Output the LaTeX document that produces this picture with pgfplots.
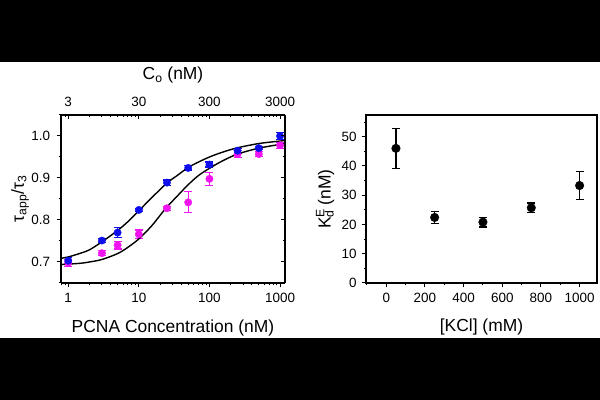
\documentclass[border=0pt]{standalone}
\usepackage{fontspec}
\setmainfont{Liberation Sans}
\usepackage{pgfplots}
\pgfplotsset{compat=1.18}

\definecolor{ptblue}{RGB}{15,15,235}
\definecolor{ptmag}{RGB}{240,20,240}

\pgfplotsset{
  common/.style={
    scale only axis, anchor=south west,
    axis line style={line width=1.3bp},
    every tick/.style={black, line width=1bp},
    major tick length=4.5bp, minor tick length=2.5bp,
    tick label style={font=\fontsize{13.5}{16}\selectfont},
    label style={font=\fontsize{17.5}{20}\selectfont},
    /pgf/number format/assume math mode=true,
    /pgf/number format/1000 sep={},
  },
  pts/.style 2 args={only marks, mark=*, mark size=#2, color=#1, mark options={fill=#1},
    error bars/.cd, y dir=both, y explicit,
    error bar style={line width=1.2bp, color=#1},
    error mark options={line width=1.2bp, mark size=4bp, color=#1, rotate=90}},
  fit/.style={black, line width=1.4bp, smooth, no marks},
}

\begin{document}
\begin{tikzpicture}
\useasboundingbox (0bp,0bp) rectangle (600bp,400bp);
\fill[black] (0bp,338bp) rectangle (600bp,400bp);
\fill[black] (0bp,0bp) rectangle (600bp,62bp);

% ---- left panel: normalised lifetime vs PCNA ----
\begin{axis}[common, at={(61bp,117bp)}, width=224bp, height=168bp,
  xmode=log, xmin=0.79, xmax=1175, ymin=0.65, ymax=1.05,
  axis x line*=bottom, axis y line*=left, tick align=outside,
  xtick={1,10,100,1000}, xticklabels={1,10,100,1000},
  minor xtick={0.8,0.9,2,3,4,5,6,7,8,9,20,30,40,50,60,70,80,90,200,300,400,500,600,700,800,900},
  ytick={0.7,0.8,0.9,1.0}, yticklabels={0.7,0.8,0.9,1.0},
  minor ytick={0.65,0.75,0.85,0.95,1.05},
  xticklabel style={yshift=-2.5bp}, yticklabel style={xshift=-3bp},
  xlabel={PCNA Concentration (nM)},
  ylabel={τ\textsubscript{app}/τ\textsubscript{3}},
  xlabel style={at={(axis description cs:0.5,-0.268)}, anchor=center},
  ylabel style={at={(axis description cs:-0.183,0.5)}, anchor=center},
  clip=false]

\addplot[pts={ptmag}{3.7bp}] coordinates {
  (1,0.698) +- (0,0.008)
  (3,0.721) +- (0,0.006)
  (5,0.740) +- (0,0.009)
  (10,0.766) +- (0,0.010)
  (25,0.828) +- (0,0.005)
  (50,0.842) +- (0,0.025)
  (100,0.898) +- (0,0.016)
  (250,0.957) +- (0,0.008)
  (500,0.957) +- (0,0.006)
  (1000,0.978) +- (0,0.007)
};
\addplot[pts={ptblue}{3.7bp}] coordinates {
  (1,0.703) +- (0,0.007)
  (3,0.751) +- (0,0.005)
  (5,0.770) +- (0,0.012)
  (10,0.824) +- (0,0.004)
  (25,0.889) +- (0,0.006)
  (50,0.924) +- (0,0.005)
  (100,0.932) +- (0,0.006)
  (250,0.965) +- (0,0.006)
  (500,0.971) +- (0,0.004)
  (1000,1.000) +- (0,0.008)
};

% fitted binding curves
\addplot[fit] coordinates {
  (0.8,0.709) (1,0.712) (1.5,0.721) (2,0.729) (3,0.748) (5,0.775) (7,0.796)
  (10,0.822) (15,0.852) (25,0.888) (35,0.906) (50,0.925) (70,0.938)
  (100,0.950) (150,0.961) (250,0.972) (500,0.982) (1000,0.988) (1175,0.989)
};
\addplot[fit] coordinates {
  (0.8,0.694) (1,0.695) (1.5,0.697) (2,0.700) (3,0.706) (5,0.720) (7,0.735)
  (10,0.755) (15,0.785) (20,0.811) (25,0.831) (35,0.857) (50,0.884)
  (70,0.906) (100,0.923) (150,0.940) (250,0.957) (500,0.971) (1000,0.980) (1175,0.982)
};
\end{axis}

% ---- left panel: top axis in total concentration ----
\begin{axis}[common, at={(61bp,117bp)}, width=224bp, height=168bp,
  xmode=log, xmin=0.79, xmax=1175, ymin=0.65, ymax=1.05,
  axis x line*=top, axis y line*=right, tick align=inside,
  xtick={1,10,100,1000}, xticklabels={3,30,300,3000},
  minor xtick={0.8,0.9,2,3,4,5,6,7,8,9,20,30,40,50,60,70,80,90,200,300,400,500,600,700,800,900},
  ytick={0.7,0.8,0.9,1.0}, yticklabels={},
  minor ytick={0.65,0.75,0.85,0.95,1.05},
  xticklabel style={yshift=5bp},
  xlabel={C\textsubscript{o} (nM)},
  xlabel style={at={(axis description cs:0.5,1.238)}, anchor=center}]
\end{axis}

% ---- right panel: Kd vs KCl ----
\begin{axis}[common, at={(366bp,117bp)}, width=231bp, height=168bp,
  xmin=-105, xmax=1090, ymin=0, ymax=57.4,
  tick align=outside, xtick pos=left, ytick pos=left,
  xtick={0,200,400,600,800,1000}, xticklabels={0,200,400,600,800,1000},
  minor xtick={-100,100,300,500,700,900},
  ytick={0,10,20,30,40,50}, yticklabels={0,10,20,30,40,50},
  minor ytick={5,15,25,35,45,55},
  xticklabel style={yshift=-2.5bp}, yticklabel style={xshift=-1.5bp},
  xlabel={[KCl] (mM)},
  ylabel={K\rlap{\textsuperscript{E}}\textsubscript{d} (nM)},
  xlabel style={at={(axis description cs:0.5,-0.26)}, anchor=center},
  ylabel style={at={(axis description cs:-0.177,0.5)}, anchor=center}]
\addplot[pts={black}{4.3bp}] coordinates {
  (50,46.0) +- (0,6.9)
  (250,22.4) +- (0,2.0)
  (500,20.8) +- (0,1.7)
  (750,25.7) +- (0,1.6)
  (1000,33.3) +- (0,4.9)
};
\end{axis}
\end{tikzpicture}
\end{document}
